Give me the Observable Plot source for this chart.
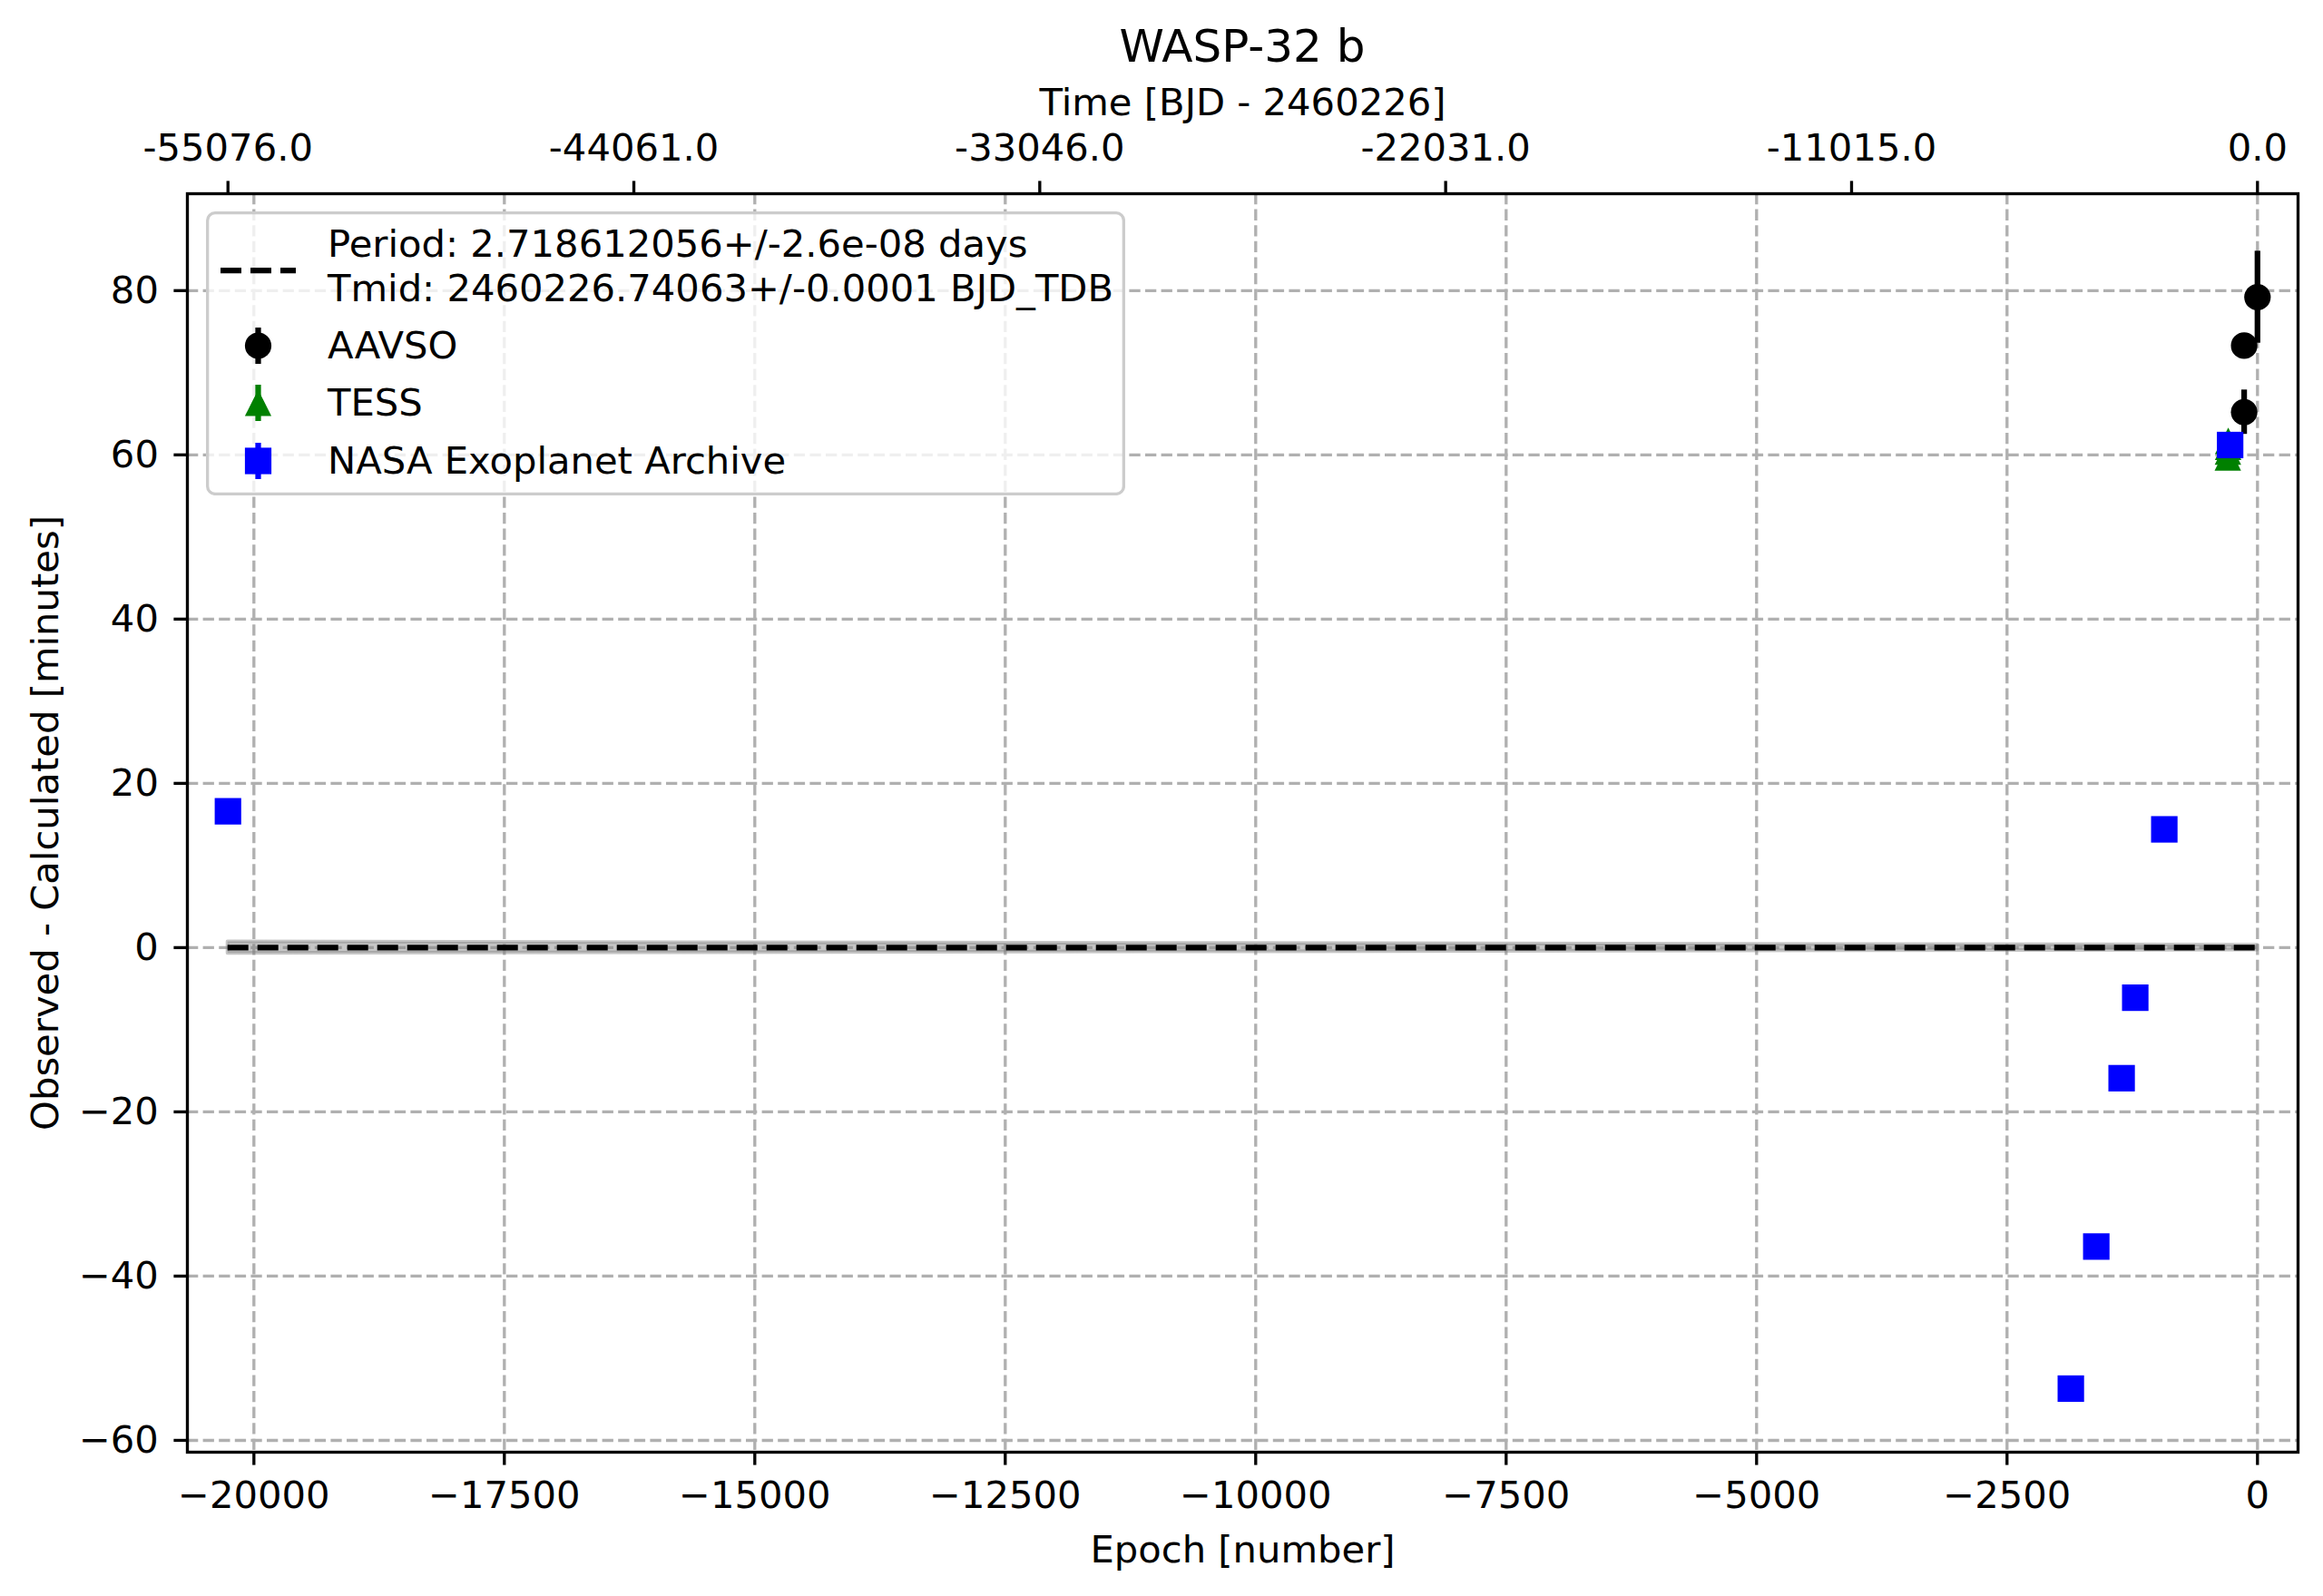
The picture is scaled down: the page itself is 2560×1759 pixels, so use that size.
<!DOCTYPE html>
<html>
<head>
<meta charset="utf-8">
<script src="https://cdn.jsdelivr.net/npm/d3@7"></script>
<script src="https://cdn.jsdelivr.net/npm/@observablehq/plot@0.6"></script>
<style>
  html, body { margin: 0; padding: 0; background: white; }
  #wrap { position: relative; width: 2560px; height: 1759px; font-family: "DejaVu Sans", sans-serif; }
  #title { position: absolute; left: 206px; width: 2326px; top: 0; height: 88px; box-sizing: border-box;
           padding-top: 26px; font-size: 50px; line-height: 50px; text-align: center; color: black; }
  #chart { position: absolute; left: 0; top: 88px; }
  #legend { position: absolute; left: 227px; top: 233px; width: 1013px; height: 313px; }
</style>
</head>
<body>
<div id="wrap">
  <div id="title">WASP-32 b</div>
  <div id="chart"></div>
  <div id="legend"></div>
</div>
<script>
// ---- data ----
const PERIOD = 2.718612056;
const periodLabel = "Period: 2.718612056+/-2.6e-08 days";
const tmidLabel = "Tmid: 2460226.74063+/-0.0001 BJD_TDB";
const seriesNames = ["AAVSO", "TESS", "NASA Exoplanet Archive"];
const seriesColors = ["black", "green", "blue"];

const aavsoEpoch = [0, -133, -133];
const aavsoOC = [79.2, 73.3, 65.2];
const aavsoErr = [5.6, 0.8, 2.7];

const tessEpoch = [-296, -295, -293, -292];
const tessOC = [59.7, 60.4, 61.0, 61.7];
const tessErr = [0.3, 0.3, 0.3, 0.3];

const nasaEpoch = [-20259, -1863, -1609, -1356, -1220, -930, -273];
const nasaOC = [16.6, -53.7, -36.4, -15.9, -6.1, 14.4, 61.2];
const nasaErr = [0.5, 0.6, 0.6, 0.5, 0.6, 0.5, 0.3];

const fitEpoch = [-20259, -10000, 0];
const fitBand = [0.7, 0.5, 0.3];

const xTicks = [-20000, -17500, -15000, -12500, -10000, -7500, -5000, -2500, 0];
const yTicks = [-60, -40, -20, 0, 20, 40, 60, 80];
const topTimeLabels = ["-55076.0", "-44061.0", "-33046.0", "-22031.0", "-11015.0", "0.0"];

// ---- build tables ----
const mk = (e, v, s) => e.map((d, i) => ({epoch: d, oc: v[i], err: s[i]}));
const aavso = mk(aavsoEpoch, aavsoOC, aavsoErr);
const tess = mk(tessEpoch, tessOC, tessErr);
const nasa = mk(nasaEpoch, nasaOC, nasaErr);
const band = fitEpoch.map((d, i) => ({epoch: d, hw: fitBand[i]}));
const topTicks = topTimeLabels.map(s => parseFloat(s) / PERIOD);
const topLabelOf = new Map(topTicks.map((t, i) => [t, topTimeLabels[i]]));
const fmt = d3.format("d");

const FS = 41.7;
const LW = 6.25;
const MR = 14.6; // marker half size
const triangle = {
  draw(ctx, size) {
    const r = Math.sqrt(size / Math.PI);
    ctx.moveTo(0, -r); ctx.lineTo(r, r); ctx.lineTo(-r, r); ctx.closePath();
  }
};
const gridStyle = {stroke: "#b0b0b0", strokeOpacity: 1, strokeWidth: 3.33, strokeDasharray: "12.3,5.3"};

const errRules = (data, color) => Plot.ruleX(data, {x: "epoch", y1: d => d.oc - d.err, y2: d => d.oc + d.err, stroke: color, strokeWidth: LW});

const chart = Plot.plot({
  width: 2560,
  height: 1671,
  marginTop: 125,
  marginBottom: 159,
  marginLeft: 206,
  marginRight: 28,
  x: {domain: [-20664, 405]},
  y: {domain: [-61.44, 91.8]},
  style: {fontFamily: "DejaVu Sans", fontSize: FS + "px", color: "black", background: "white", overflow: "visible"},
  marks: [
    Plot.gridX({ticks: xTicks, ...gridStyle}),
    Plot.gridY({ticks: yTicks, ...gridStyle}),
    Plot.areaY(band, {x: "epoch", y1: d => -d.hw, y2: d => d.hw, fill: "gray", fillOpacity: 0.45, stroke: "gray", strokeOpacity: 0.45, strokeWidth: 4}),
    Plot.ruleY([0], {x1: fitEpoch[0], x2: fitEpoch[fitEpoch.length - 1], stroke: "black", strokeWidth: LW, strokeDasharray: "23,10"}),
    errRules(aavso, seriesColors[0]),
    Plot.dot(aavso, {x: "epoch", y: "oc", r: MR, fill: seriesColors[0], symbol: "circle"}),
    errRules(tess, seriesColors[1]),
    Plot.dot(tess, {x: "epoch", y: "oc", r: MR, fill: seriesColors[1], symbol: triangle}),
    errRules(nasa, seriesColors[2]),
    Plot.dot(nasa, {x: "epoch", y: "oc", r: 2 * MR / Math.sqrt(Math.PI), fill: seriesColors[2], symbol: "square"}),
    Plot.frame({stroke: "black", strokeWidth: 3.33}),
    Plot.axisX({anchor: "bottom", ticks: xTicks, tickSize: 14.6, tickPadding: 17, strokeWidth: 3.33,
      tickFormat: fmt, label: "Epoch [number]", labelAnchor: "center", labelOffset: 121, labelArrow: "none"}),
    Plot.axisX({anchor: "top", ticks: topTicks, tickSize: 14.6, tickPadding: 22.4, strokeWidth: 3.33,
      tickFormat: d => topLabelOf.get(d), label: "Time [BJD - 2460226]", labelAnchor: "center", labelOffset: 116, labelArrow: "none"}),
    Plot.axisY({anchor: "left", ticks: yTicks, tickSize: 14.6, tickPadding: 17, strokeWidth: 3.33,
      tickFormat: fmt, label: "Observed - Calculated [minutes]", labelAnchor: "center", labelOffset: 172, labelArrow: "none"})
  ]
});
document.getElementById("chart").appendChild(chart);

// ---- legend (overlay box, like matplotlib's) ----
const L = d3.select("#legend").append("svg")
  .attr("width", 1013).attr("height", 313)
  .style("font-family", "DejaVu Sans").style("font-size", FS + "px");
L.append("rect").attr("x", 1.67).attr("y", 1.67).attr("width", 1009.7).attr("height", 309.7).attr("rx", 8.3)
  .attr("fill", "white").attr("fill-opacity", 0.8).attr("stroke", "#cccccc").attr("stroke-width", 3.33);
L.append("line").attr("x1", 16).attr("x2", 99).attr("y1", 65).attr("y2", 65)
  .attr("stroke", "black").attr("stroke-width", LW).attr("stroke-dasharray", "23,10");
L.append("text").attr("x", 134).attr("y", 50).text(periodLabel);
L.append("text").attr("x", 134).attr("y", 99).text(tmidLabel);
const hx = 57.5;
const rows = [148, 211, 275];
const baselines = [162, 225, 289];
rows.forEach((cy, i) => {
  L.append("line").attr("x1", hx).attr("x2", hx).attr("y1", cy - 20).attr("y2", cy + 20)
    .attr("stroke", seriesColors[i]).attr("stroke-width", LW);
  if (i === 0) L.append("circle").attr("cx", hx).attr("cy", cy).attr("r", MR).attr("fill", seriesColors[i]);
  if (i === 1) L.append("path").attr("d", `M${hx},${cy - MR}L${hx + MR},${cy + MR}L${hx - MR},${cy + MR}Z`).attr("fill", seriesColors[i]);
  if (i === 2) L.append("rect").attr("x", hx - MR).attr("y", cy - MR).attr("width", 2 * MR).attr("height", 2 * MR).attr("fill", seriesColors[i]);
  L.append("text").attr("x", 134).attr("y", baselines[i]).text(seriesNames[i]);
});
</script>
</body>
</html>
